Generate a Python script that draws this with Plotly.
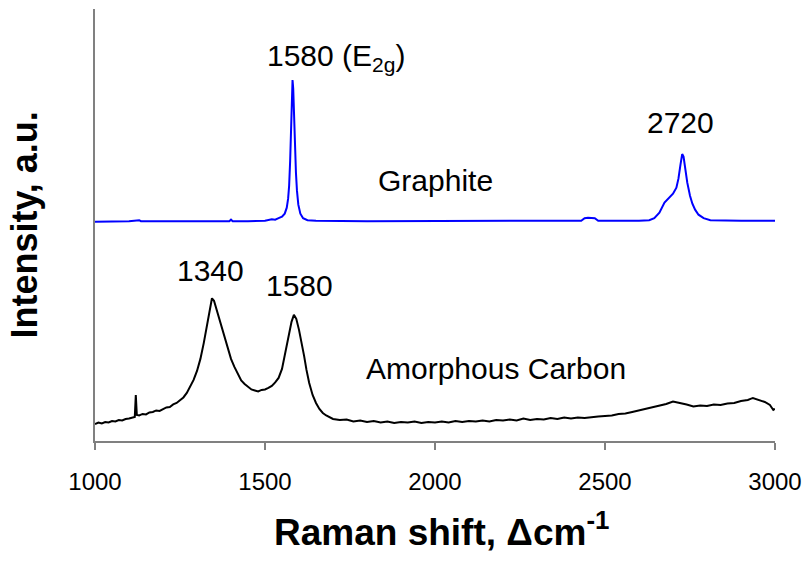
import plotly.graph_objects as go

# Raman spectra (shift in cm^-1, intensity in arbitrary units)
graphite_shift = [
    1000, 1100, 1130, 1135, 1200, 1300, 1395, 1400, 1405, 1450, 1480, 1500,
    1520, 1530, 1540, 1550, 1558, 1564, 1568, 1571, 1574, 1577, 1579, 1581,
    1583, 1585, 1588, 1591, 1594, 1598, 1604, 1612, 1625, 1650, 1800, 2000,
    2200, 2400, 2430, 2440, 2450, 2470, 2480, 2600, 2630, 2645, 2660, 2675,
    2690, 2700, 2710, 2716, 2722, 2727, 2731, 2736, 2742, 2750, 2757, 2765,
    2775, 2790, 2810, 2900, 3000,
]
graphite_intensity = [
    219.0, 219.5, 220.5, 219.5, 219.5, 219.5, 219.5, 221.0, 219.5, 219.5, 220.0, 220.0,
    221.5, 221.0, 222.5, 224.0, 227.0, 233.0, 242.0, 255.0, 280.0, 320.0, 350.0, 360.5,
    352.0, 325.0, 295.0, 268.0, 250.0, 236.0, 227.0, 222.5, 220.5, 220.0, 219.5, 219.5,
    219.5, 219.5, 220.0, 222.5, 223.0, 222.5, 220.0, 220.0, 220.5, 222.5, 228.0, 238.0,
    244.0, 247.0, 253.0, 262.0, 276.0, 286.5, 284.0, 270.0, 258.0, 245.0, 237.0, 231.0,
    226.0, 222.5, 220.5, 220.0, 220.0,
]

amorphous_shift = [
    1000, 1010, 1020, 1030, 1040, 1050, 1060, 1070, 1080, 1090, 1100, 1110,
    1117, 1120, 1123, 1130, 1140, 1150, 1160, 1170, 1180, 1190, 1200, 1210,
    1220, 1230, 1240, 1250, 1260, 1270, 1280, 1290, 1300, 1310, 1320, 1330,
    1338, 1344, 1350, 1356, 1362, 1370, 1380, 1390, 1400, 1410, 1420, 1430,
    1440, 1450, 1460, 1470, 1480, 1490, 1500, 1510, 1520, 1530, 1540, 1550,
    1560, 1570, 1578, 1585, 1592, 1600, 1608, 1615, 1622, 1630, 1640, 1650,
    1660, 1670, 1680, 1690, 1700, 1720, 1740, 1760, 1780, 1800, 1820, 1840,
    1860, 1880, 1900, 1920, 1940, 1960, 1980, 2000, 2020, 2040, 2060, 2080,
    2100, 2120, 2140, 2160, 2180, 2200, 2220, 2240, 2260, 2280, 2300, 2320,
    2340, 2360, 2380, 2400, 2420, 2440, 2460, 2480, 2500, 2520, 2540, 2560,
    2580, 2600, 2620, 2640, 2660, 2680, 2700, 2710, 2720, 2740, 2760, 2780,
    2800, 2820, 2840, 2860, 2880, 2900, 2920, 2935, 2950, 2970, 2985, 2995,
    3000,
]
amorphous_intensity = [
    17.0, 18.5, 17.5, 19.0, 18.5, 20.0, 19.5, 21.0, 20.5, 22.0, 22.5, 23.5,
    24.0, 46.0, 26.0, 25.5, 27.0, 26.5, 28.5, 29.0, 30.5, 30.0, 32.0, 33.5,
    34.0, 36.5, 38.0, 40.5, 43.5, 48.0, 54.0, 61.0, 70.0, 82.0, 98.0, 117.0,
    134.0, 142.5, 140.0, 133.0, 125.0, 116.0, 104.0, 92.0, 82.0, 74.0, 67.0, 60.5,
    57.0, 54.0, 51.5, 50.5, 49.5, 51.0, 51.5, 53.0, 55.0, 58.5, 63.0, 72.0,
    88.0, 106.0, 119.0, 126.0, 122.0, 111.0, 98.0, 85.0, 71.0, 58.0, 46.0, 38.0,
    32.0, 28.0, 25.5, 23.5, 22.0, 21.0, 21.5, 19.5, 20.5, 19.0, 20.0, 18.5,
    19.5, 18.0, 19.0, 18.5, 19.5, 18.0, 19.0, 18.5, 19.5, 18.5, 20.0, 19.0,
    20.0, 19.5, 20.5, 19.5, 21.0, 20.5, 21.5, 20.5, 22.5, 21.0, 22.0, 21.5,
    23.0, 22.0, 23.5, 22.5, 23.5, 23.0, 24.0, 24.5, 25.0, 25.5, 27.0, 27.5,
    29.0, 30.5, 32.0, 34.0, 35.5, 37.0, 39.5, 38.5, 38.0, 36.5, 34.5, 35.5,
    35.0, 36.5, 36.0, 37.5, 38.0, 40.0, 41.0, 43.0, 41.0, 39.0, 36.0, 31.0,
    32.0,
]

x_ticks = [1000, 1500, 2000, 2500, 3000]

FONT = "Arial, 'Liberation Sans', sans-serif"

fig = go.Figure()
fig.add_trace(go.Scatter(
    x=graphite_shift, y=graphite_intensity, mode="lines",
    line=dict(color="#0000ff", width=2), name="Graphite",
))
fig.add_trace(go.Scatter(
    x=amorphous_shift, y=amorphous_intensity, mode="lines",
    line=dict(color="#000000", width=2), name="Amorphous Carbon",
))

# peak and spectrum labels
labels = [
    ("1580 (E<sub>2g</sub>)", 1708, 383),
    ("2720", 2722, 318),
    ("Graphite", 2000, 260),
    ("1340", 1339, 170),
    ("1580", 1601, 155),
    ("Amorphous Carbon", 2180, 72),
]
for text, x, y in labels:
    fig.add_annotation(
        x=x, y=y, xref="x", yref="y", text=text, showarrow=False,
        xanchor="center", yanchor="middle",
        font=dict(family=FONT, size=30, color="black"),
    )

# axis titles
fig.add_annotation(
    x=-0.105, y=0.5, xref="paper", yref="paper", textangle=-90,
    text="<b>Intensity, a.u.</b>", showarrow=False,
    xanchor="center", yanchor="middle",
    font=dict(family=FONT, size=36, color="black"),
)
fig.add_annotation(
    x=0.51, y=-0.205, xref="paper", yref="paper",
    text="<b>Raman shift, \u0394cm<sup>-1</sup></b>", showarrow=False,
    xanchor="center", yanchor="middle",
    font=dict(family=FONT, size=37, color="black"),
)

fig.update_layout(
    width=811, height=564,
    margin=dict(l=95, r=31, t=9, b=123),
    paper_bgcolor="white", plot_bgcolor="white",
    showlegend=False,
    xaxis=dict(
        range=[1000, 3000], tickvals=x_ticks, ticktext=[str(v) for v in x_ticks],
        ticks="outside", ticklen=7, tickwidth=1.5, tickcolor="#808080",
        showline=True, linecolor="#808080", linewidth=1.5,
        showgrid=False, zeroline=False, ticklabelstandoff=11,
        tickfont=dict(family=FONT, size=24, color="black"),
    ),
    yaxis=dict(
        range=[0, 431.4], showticklabels=False, ticks="",
        showline=True, linecolor="#808080", linewidth=1.5,
        showgrid=False, zeroline=False,
    ),
)

fig.write_html("out.html")
